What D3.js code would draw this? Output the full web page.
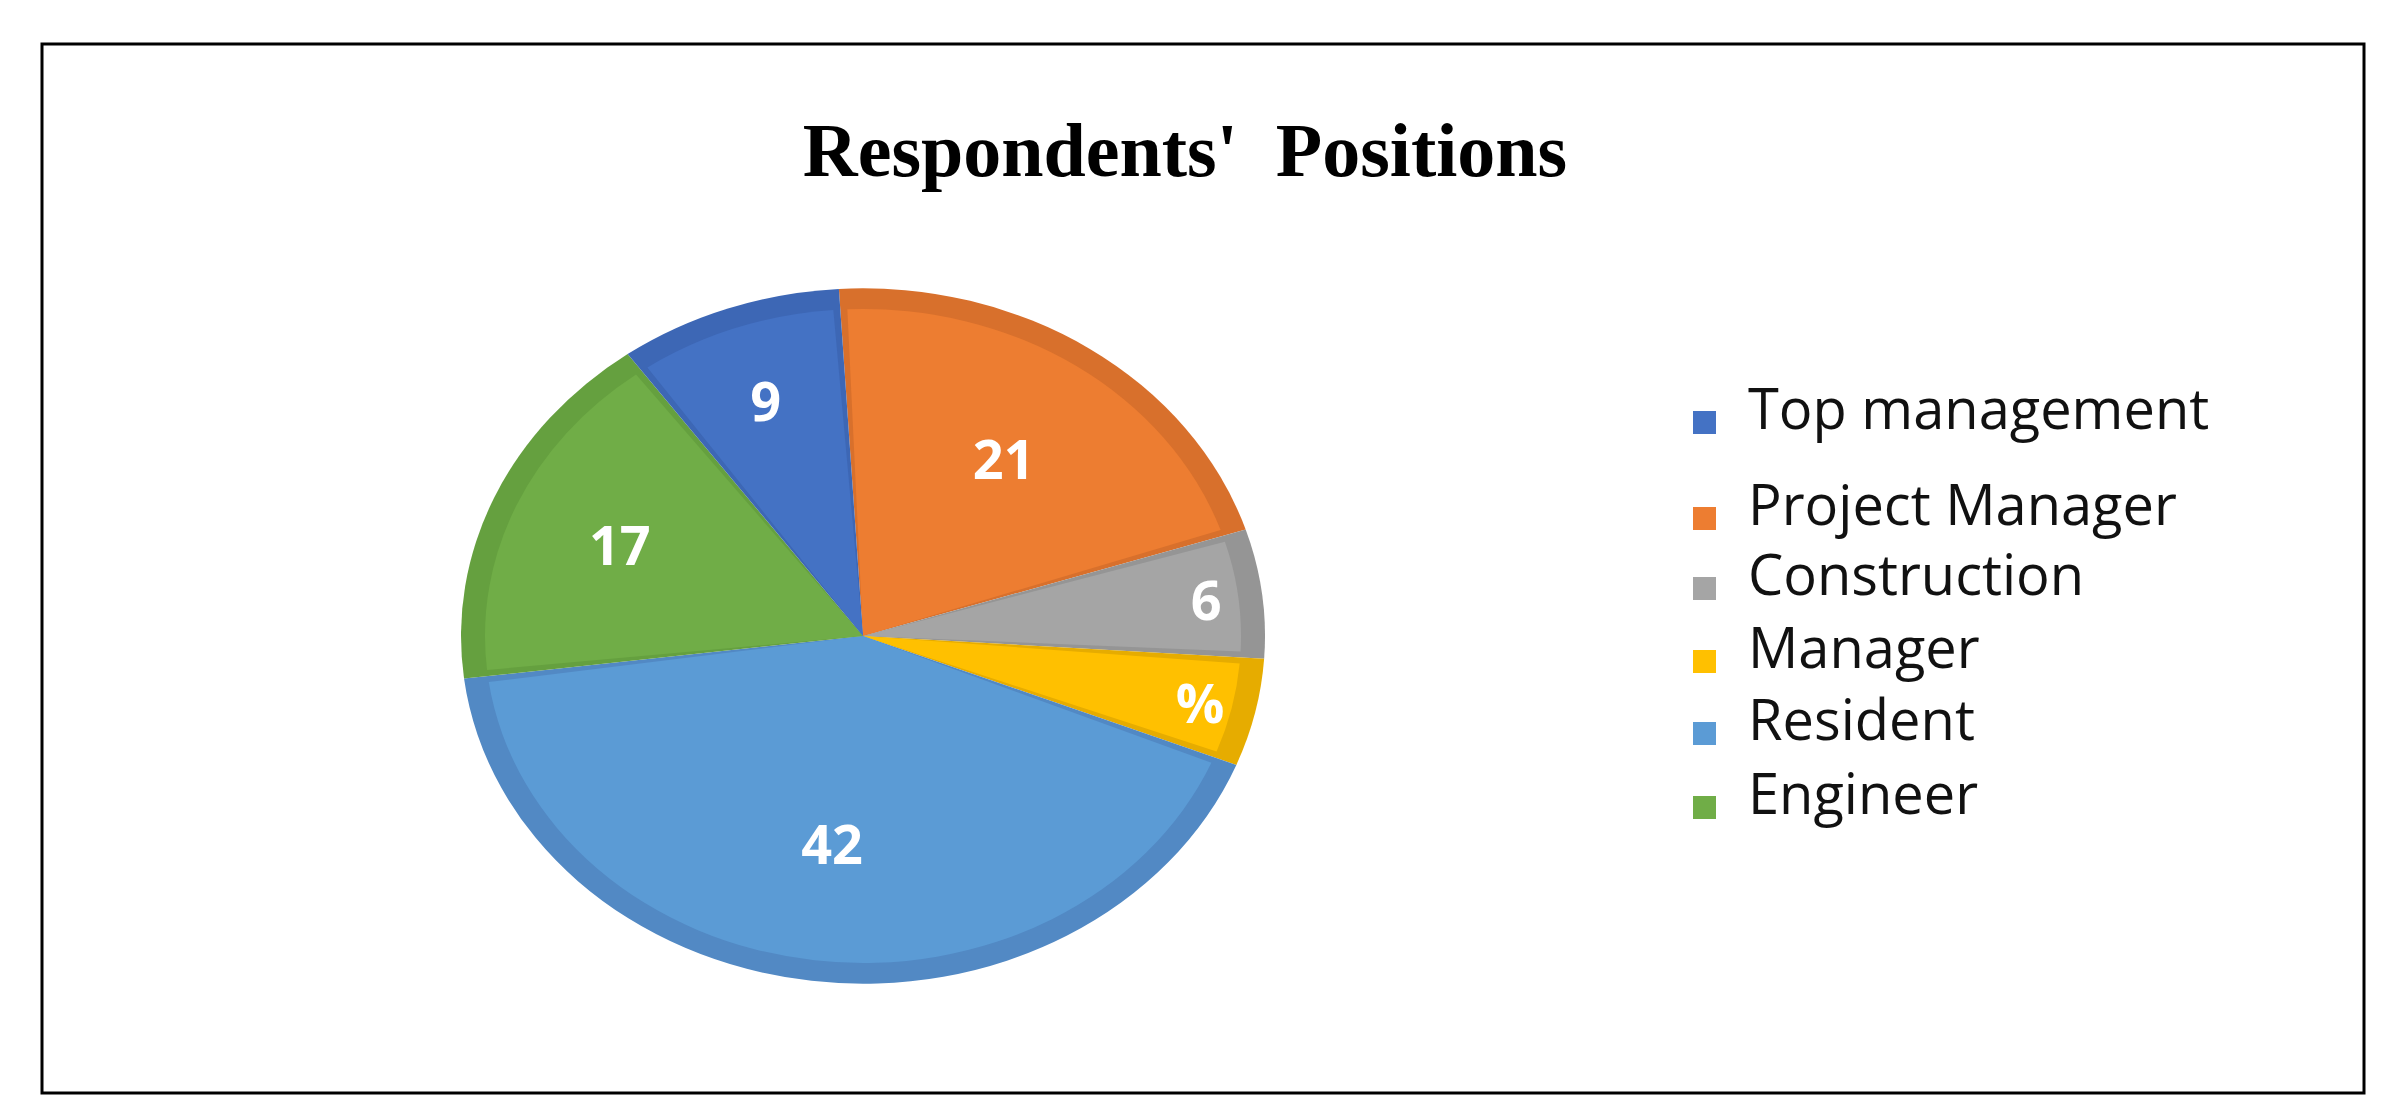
<!DOCTYPE html>
<html><head><meta charset="utf-8">
<script src="https://cdn.jsdelivr.net/npm/d3@7"></script>
<style>body{margin:0;background:#fff}</style>
</head><body>
<svg id="chart" width="2394" height="1112"></svg>
<script>
const categories = ["Project Manager", "Construction", "Manager", "Resident", "Engineer", "Top management"];
const values = [21, 6, 5, 42, 17, 9];
const sliceLabels = ["21", "6", "%", "42", "17", "9"];
const legendLabels = ["Top management", "Project Manager", "Construction", "Manager", "Resident", "Engineer"];
const fills = ["#ED7D31", "#A5A5A5", "#FFC000", "#5B9BD5", "#70AD47", "#4472C4"];
const borders = ["#D8702C", "#959595", "#E6AC00", "#5289C4", "#65A03F", "#3D67B5"];
const legendColors = ["#4472C4", "#ED7D31", "#A5A5A5", "#FFC000", "#5B9BD5", "#70AD47"];

const svg = d3.select("#chart");
svg.append("rect").attr("x", 42).attr("y", 44).attr("width", 2322).attr("height", 1049)
  .attr("fill", "none").attr("stroke", "#000").attr("stroke-width", 3);

svg.append("text").attr("x", 1185).attr("y", 176).attr("text-anchor", "middle")
  .attr("font-family", "Liberation Serif, serif").attr("font-weight", "bold")
  .attr("font-size", 76).style("white-space", "pre").text("Respondents'  Positions");

const cx = 863, cy = 636, R = 402, sy = 0.865;
const pie = d3.pie().sort(null).startAngle(-0.06).endAngle(2 * Math.PI - 0.06);
const arcs = pie(values);
const outer = d3.arc().innerRadius(0).outerRadius(R);
const inner = d3.arc().innerRadius(0).outerRadius(R - 24).padAngle(0.035).padRadius(R);

const g = svg.append("g").attr("transform", `translate(${cx},${cy}) scale(1,${sy})`);
g.selectAll("path.o").data(arcs).join("path").attr("class", "o")
  .attr("d", outer).attr("fill", (d, i) => borders[i]);
g.selectAll("path.i").data(arcs).join("path").attr("class", "i")
  .attr("d", inner).attr("fill", (d, i) => fills[i]);

const labelR = [0.62, 0.86, 0.86, 0.6, 0.66, 0.72];
svg.append("g").selectAll("text").data(arcs).join("text")
  .each(function (d, i) {
    const a = (d.startAngle + d.endAngle) / 2;
    const r = R * labelR[i];
    d3.select(this).attr("x", cx + r * Math.sin(a)).attr("y", cy - r * Math.cos(a) * sy);
  })
  .attr("text-anchor", "middle").attr("dominant-baseline", "central")
  .attr("font-family", "Open Sans, sans-serif").attr("font-weight", "bold")
  .attr("font-size", 54).attr("fill", "#fff").text((d, i) => sliceLabels[i]);

const legendY = d3.scalePoint().domain(legendLabels).range([407, 792]);
const ly = [407, 503, 573, 646, 718, 792];
const lg = svg.append("g").selectAll("g").data(legendLabels).join("g");
lg.append("rect").attr("x", 1693).attr("y", (d, i) => ly[i] + 4).attr("width", 23).attr("height", 23)
  .attr("fill", (d, i) => legendColors[i]);
lg.append("text").attr("x", 1748).attr("y", (d, i) => ly[i]).attr("dominant-baseline", "central")
  .attr("font-family", "Open Sans, sans-serif").attr("font-size", 56).attr("fill", "#111").text(d => d);
</script>
</body></html>
